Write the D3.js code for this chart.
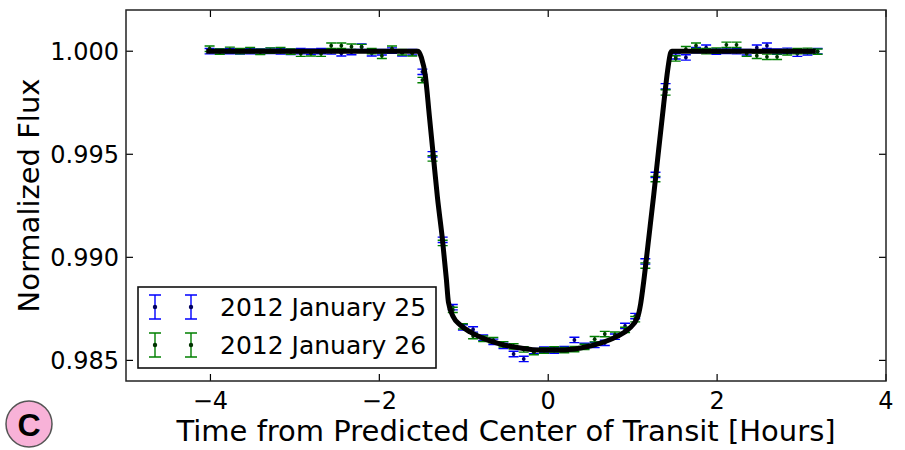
<!DOCTYPE html>
<html>
<head>
<meta charset="utf-8">
<script src="https://cdn.jsdelivr.net/npm/d3@7"></script>
<style>
  body { margin: 0; background: #fff; }
  svg { display: block; font-family: "DejaVu Sans", sans-serif; }
</style>
</head>
<body>
<div id="chart"></div>
<script>
// binned light curve, hours from predicted mid-transit
const hours = [
  -4.01, -3.89, -3.77, -3.65, -3.53, -3.41, -3.29, -3.17, -3.05, -2.93,
  -2.81, -2.69, -2.57, -2.45, -2.33, -2.21, -2.09, -1.97, -1.85, -1.73,
  -1.61, -1.49, -1.37, -1.25, -1.13, -1.01, -0.89, -0.77, -0.65, -0.53,
  -0.41, -0.29, -0.17, -0.05, 0.07, 0.19, 0.31, 0.43, 0.55, 0.67,
  0.79, 0.91, 1.03, 1.15, 1.27, 1.39, 1.51, 1.63, 1.75, 1.87,
  1.99, 2.11, 2.23, 2.35, 2.47, 2.59, 2.71, 2.83, 2.95, 3.07, 3.19
]

const fluxJan25 = [
  1.00000, 0.99998, 1.00001, 0.99999, 1.00000, 0.99998, 1.00002, 0.99999, 0.99997, 1.00000,
  0.99998, 1.00001, 0.99999, 0.99990, 0.99996, 1.00022, 0.99990, 0.99995, 1.00003, 0.99990,
  0.99995, 0.99900, 0.99500, 0.99085, 0.98758, 0.98660, 0.98650, 0.98610, 0.98590, 0.98570,
  0.98531, 0.98507, 0.98545, 0.98552, 0.98548, 0.98555, 0.98599, 0.98570, 0.98575, 0.98585,
  0.98615, 0.98667, 0.98715, 0.98980, 0.99400, 0.99830, 0.99975, 0.99970, 1.00005, 1.00017,
  0.99998, 1.00002, 1.00000, 0.99995, 1.00017, 1.00027, 0.99998, 1.00002, 0.99988, 0.99995, 1.00000
]

const fluxJan26 = [
  1.00012, 0.99998, 1.00007, 1.00000, 1.00005, 0.99997, 1.00003, 1.00005, 0.99998, 0.99988,
  0.99990, 0.99988, 1.00027, 1.00027, 1.00022, 1.00020, 1.00000, 0.99978, 1.00012, 0.99995,
  0.99990, 0.99860, 0.99480, 0.99070, 0.98745, 0.98665, 0.98618, 0.98605, 0.98598, 0.98578,
  0.98568, 0.98553, 0.98540, 0.98548, 0.98553, 0.98550, 0.98555, 0.98565, 0.98603, 0.98628,
  0.98625, 0.98648, 0.98700, 0.98960, 0.99380, 0.99800, 0.99965, 1.00010, 1.00027, 1.00000,
  1.00003, 1.00031, 1.00031, 0.99988, 0.99978, 0.99973, 0.99973, 0.99995, 1.00000, 1.00002, 0.99998
]

const errJan25 = 0.00013
const errJan26 = 0.00013

// transit model curve
const modelHours = [
  -4.05, -1.54, -1.502, -1.455, -1.407, -1.360, -1.312, -1.253, -1.206, -1.182,
  -1.123, -1.040, -0.921, -0.743, -0.565, -0.328, -0.091, 0.146, 0.383, 0.620,
  0.798, 0.952, 1.059, 1.094, 1.130, 1.189, 1.249, 1.308, 1.367, 1.415,
  1.450, 1.462, 3.169
]
const modelFlux = [
  1.00000, 1.00000, 0.99969, 0.99880, 0.99683, 0.99489, 0.99291, 0.99088, 0.98894, 0.98783,
  0.98710, 0.98671, 0.98637, 0.98603, 0.98579, 0.98560, 0.98550, 0.98550, 0.98560, 0.98584,
  0.98613, 0.98652, 0.98710, 0.98773, 0.98880, 0.99088, 0.99301, 0.99523, 0.99741, 0.99910,
  0.99993, 1.00000, 1.00000
]

const xTicks = [-4, -2, 0, 2, 4]
const yTicks = [0.985, 0.990, 0.995, 1.000]
const seriesNames = ["2012 January 25", "2012 January 26"]

const width = 905
const height = 450
const margin = {top: 10, right: 19, bottom: 69, left: 126}

const blue = "#0000ff", blueDot = "#000060"
const green = "#008000", greenDot = "#003300"

const x = d3.scaleLinear().domain([-5, 4]).range([margin.left, width - margin.right])
const y = d3.scaleLinear().domain([0.984, 1.002]).range([height - margin.bottom, margin.top])

const svg = d3.create("svg")
    .attr("width", width)
    .attr("height", height)
    .attr("viewBox", `0 0 ${width} ${height}`)

const series = [
  {name: seriesNames[0], flux: fluxJan25, err: errJan25, color: blue, dot: blueDot},
  {name: seriesNames[1], flux: fluxJan26, err: errJan26, color: green, dot: greenDot}
]

function errorBars(g, s, cap) {
  const pts = hours.map((h, i) => ({h, f: s.flux[i]}))
  const eb = g.append("g")
      .attr("stroke", s.color)
      .attr("stroke-width", 1.4)
      .attr("fill", "none")
  eb.selectAll("path")
    .data(pts)
    .join("path")
      .attr("d", d => {
        const cx = x(d.h), y0 = y(d.f - s.err), y1 = y(d.f + s.err)
        return `M${cx},${y0}V${y1}M${cx - cap},${y0}H${cx + cap}M${cx - cap},${y1}H${cx + cap}`
      })
  g.append("g")
      .attr("fill", s.dot)
    .selectAll("circle")
    .data(pts)
    .join("circle")
      .attr("cx", d => x(d.h))
      .attr("cy", d => y(d.f))
      .attr("r", 1.9)
}

const plot = svg.append("g")
series.forEach(s => errorBars(plot, s, 5))

const line = d3.line()
    .curve(d3.curveMonotoneX)
    .x(d => x(d[0]))
    .y(d => y(d[1]))

plot.append("path")
    .datum(modelHours.map((h, i) => [h, modelFlux[i]]))
    .attr("fill", "none")
    .attr("stroke", "#000")
    .attr("stroke-width", 5)
    .attr("stroke-linejoin", "round")
    .attr("d", line)

// frame + inward ticks on all four sides
const x0 = margin.left, x1 = width - margin.right
const y0 = height - margin.bottom, y1 = margin.top
const tickLen = 7

const axes = svg.append("g").attr("stroke", "#000").attr("stroke-width", 1.2)
xTicks.forEach(t => {
  axes.append("line").attr("x1", x(t)).attr("x2", x(t)).attr("y1", y0).attr("y2", y0 - tickLen)
  axes.append("line").attr("x1", x(t)).attr("x2", x(t)).attr("y1", y1).attr("y2", y1 + tickLen)
})
yTicks.forEach(t => {
  axes.append("line").attr("x1", x0).attr("x2", x0 + tickLen).attr("y1", y(t)).attr("y2", y(t))
  axes.append("line").attr("x1", x1).attr("x2", x1 - tickLen).attr("y1", y(t)).attr("y2", y(t))
})
svg.append("rect")
    .attr("x", x0).attr("y", y1)
    .attr("width", x1 - x0).attr("height", y0 - y1)
    .attr("fill", "none")
    .attr("stroke", "#222")
    .attr("stroke-width", 1.5)

const fmtX = d => d < 0 ? "\u2212" + Math.abs(d) : String(d)
svg.append("g")
    .attr("font-size", 24)
    .attr("text-anchor", "middle")
  .selectAll("text")
  .data(xTicks)
  .join("text")
    .attr("x", d => x(d))
    .attr("y", y0 + 28)
    .text(fmtX)

svg.append("g")
    .attr("font-size", 24)
    .attr("text-anchor", "end")
  .selectAll("text")
  .data(yTicks)
  .join("text")
    .attr("x", x0 - 7)
    .attr("y", d => y(d))
    .attr("dy", "0.36em")
    .text(d3.format(".3f"))

svg.append("text")
    .attr("font-size", 29)
    .attr("text-anchor", "middle")
    .attr("x", (x0 + x1) / 2)
    .attr("y", 441)
    .text("Time from Predicted Center of Transit [Hours]")

svg.append("text")
    .attr("font-size", 29)
    .attr("text-anchor", "middle")
    .attr("transform", `translate(39,${(y0 + y1) / 2}) rotate(-90)`)
    .text("Normalized Flux")

// legend
const legend = svg.append("g")
legend.append("rect")
    .attr("x", 138).attr("y", 287)
    .attr("width", 298).attr("height", 81)
    .attr("fill", "#fff")
    .attr("stroke", "#111")
    .attr("stroke-width", 1.6)

series.forEach((s, i) => {
  const cy = 307 + i * 38
  const row = legend.append("g")
  ;[155, 191].forEach(cx => {
    row.append("path")
        .attr("d", `M${cx},${cy - 12}V${cy + 12}M${cx - 6},${cy - 12}H${cx + 6}M${cx - 6},${cy + 12}H${cx + 6}`)
        .attr("stroke", s.color)
        .attr("stroke-width", 1.4)
        .attr("fill", "none")
    row.append("circle")
        .attr("cx", cx).attr("cy", cy).attr("r", 2.2)
        .attr("fill", s.dot)
  })
  row.append("text")
      .attr("x", 220)
      .attr("y", cy)
      .attr("dy", "0.36em")
      .attr("font-size", 25)
      .text(s.name)
})

// panel badge
const badge = svg.append("g").attr("transform", "translate(29,424)")
badge.append("circle")
    .attr("r", 23)
    .attr("fill", "#f8b2d8")
    .attr("stroke", "#555")
    .attr("stroke-width", 1.5)
badge.append("text")
    .attr("text-anchor", "middle")
    .attr("dy", "0.36em")
    .attr("font-family", "'Liberation Sans', Arial, sans-serif")
    .attr("font-weight", "bold")
    .attr("font-size", 32)
    .text("C")

document.getElementById("chart").append(svg.node())
</script>
</body>
</html>
